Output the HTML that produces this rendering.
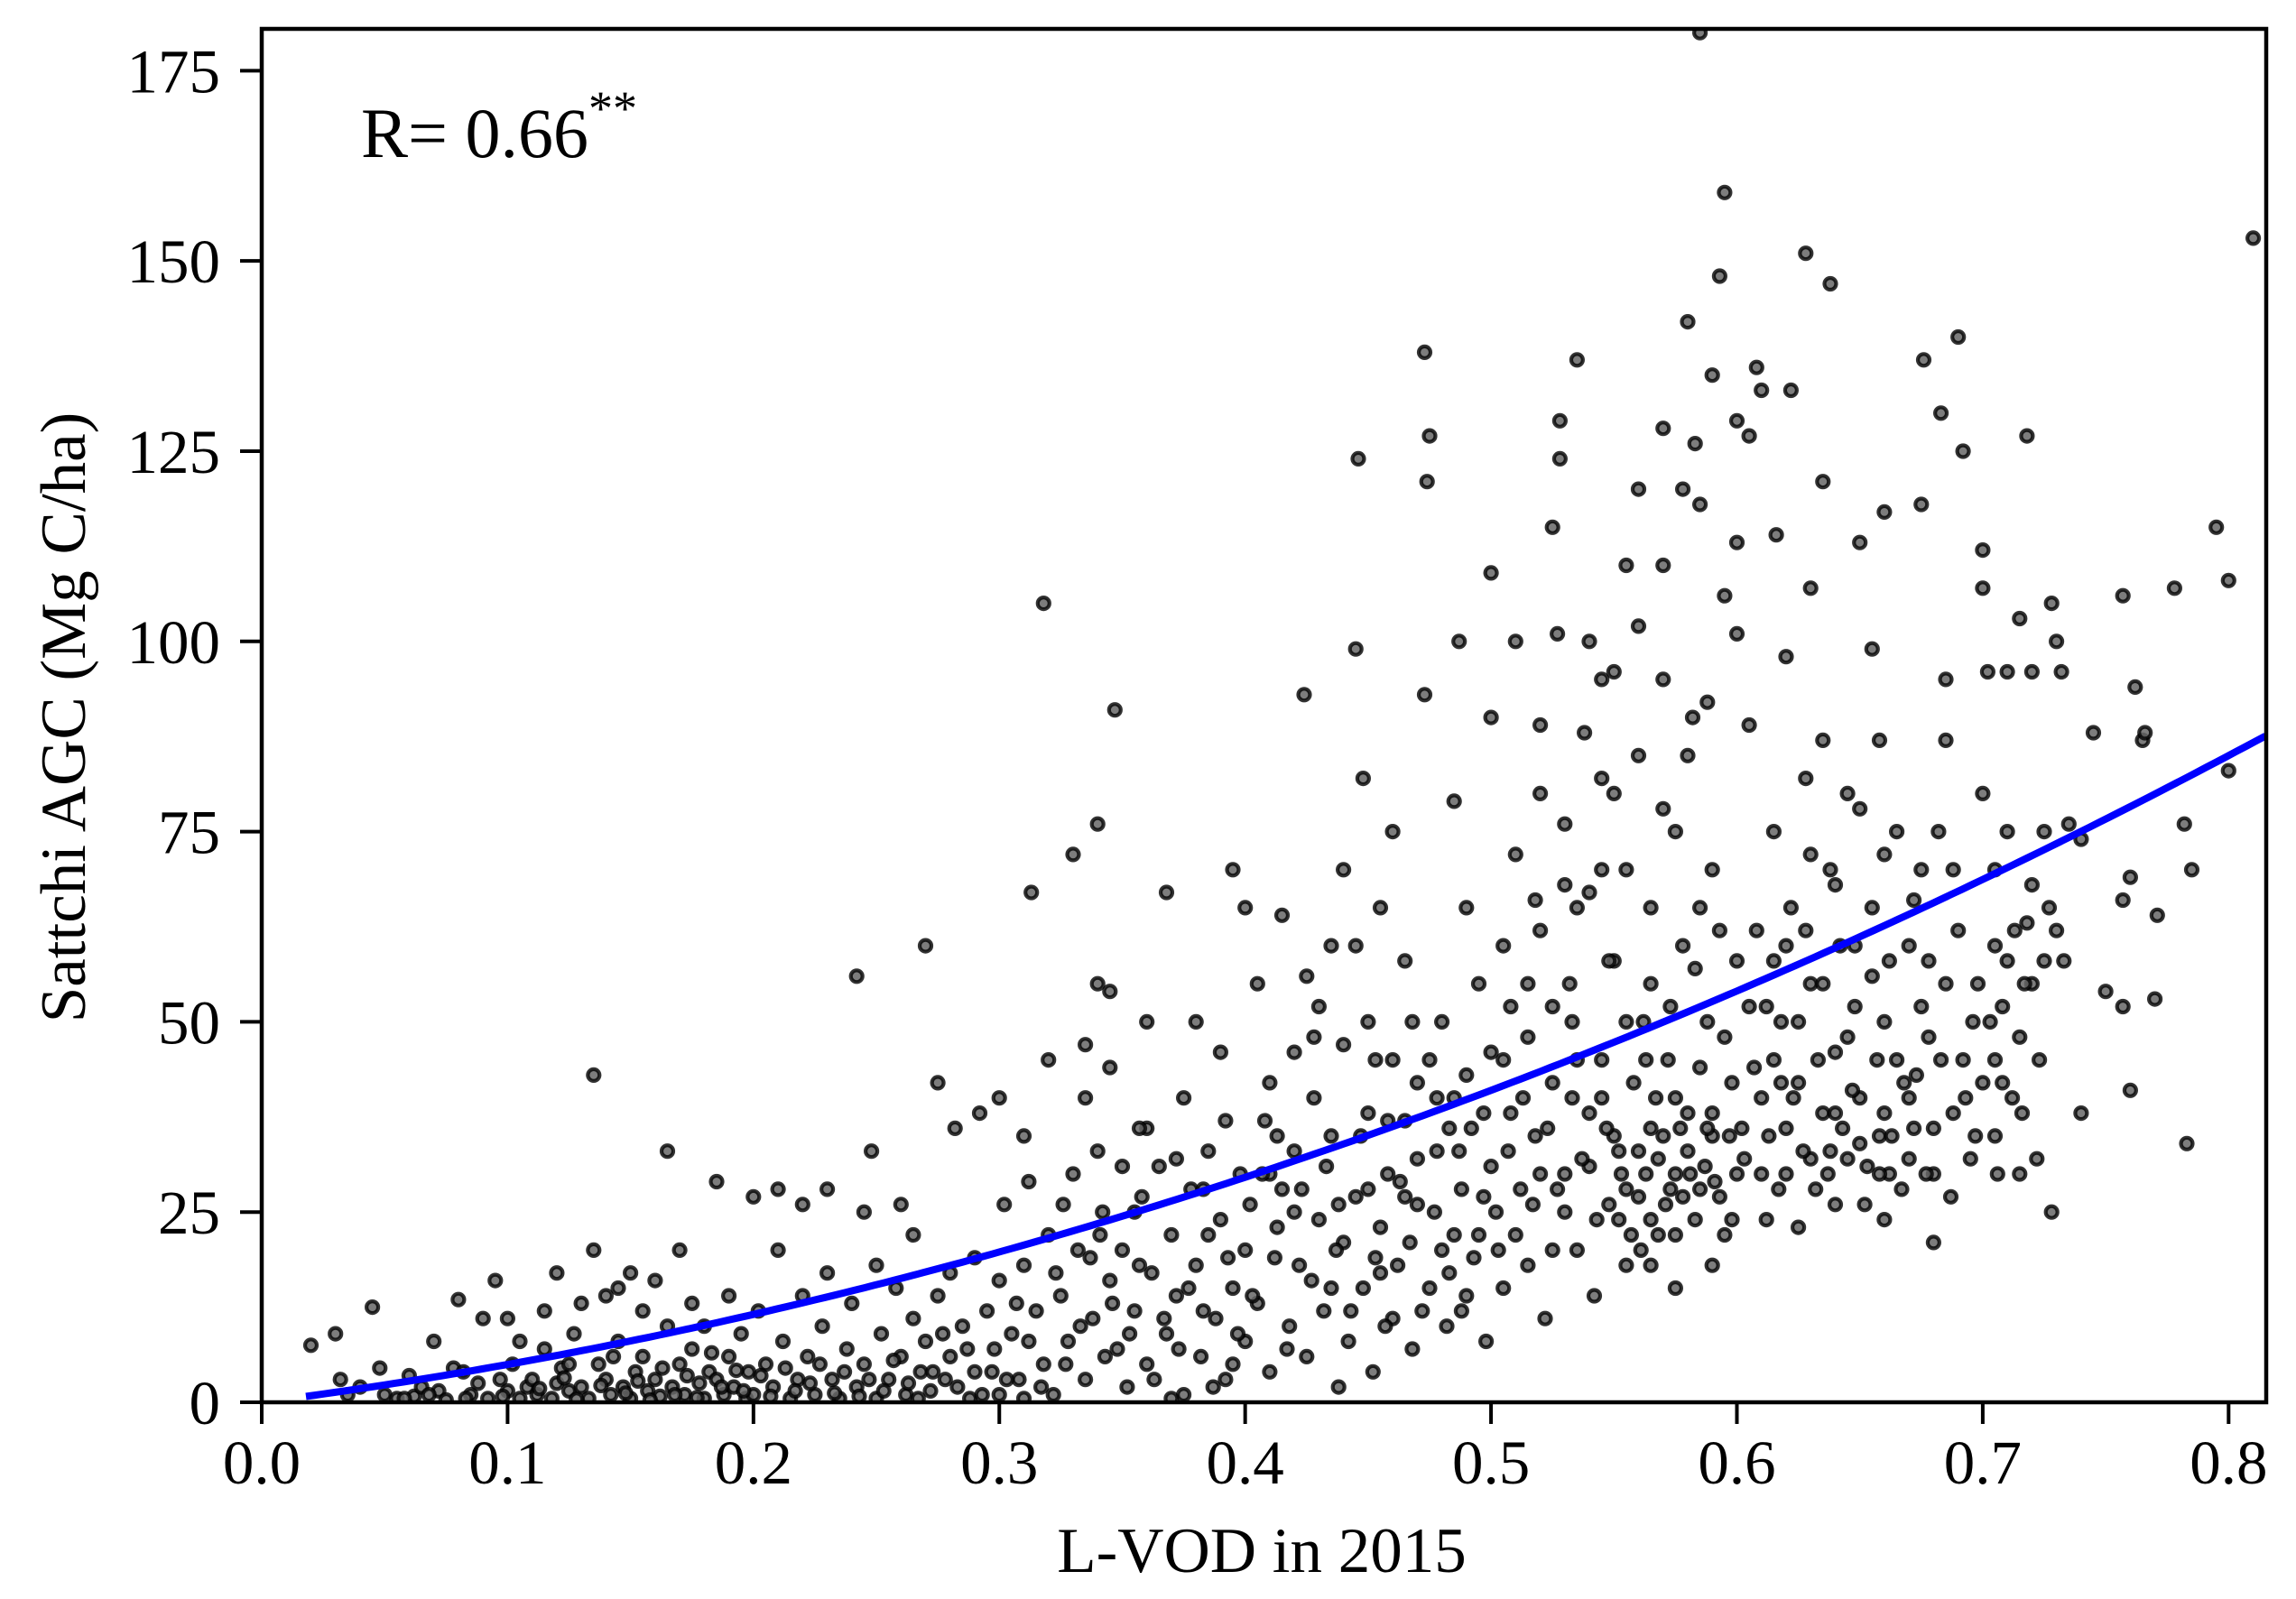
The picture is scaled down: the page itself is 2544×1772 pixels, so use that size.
<!DOCTYPE html>
<html><head><meta charset="utf-8"><style>
html,body{margin:0;padding:0;background:#fff;}
svg{display:block;font-family:"Liberation Serif",serif;}
</style></head><body>
<svg id="chart" width="2544" height="1772" viewBox="0 0 2544 1772" xmlns="http://www.w3.org/2000/svg">
<rect x="0" y="0" width="2544" height="1772" fill="#fff"/>
<g id="points"></g>
<g id="fit"></g>
<g id="axes"></g>
<text x="400" y="174" font-size="78">R= 0.66<tspan dy="-36" font-size="54">**</tspan></text>
<text x="1398" y="1742" font-size="71" text-anchor="middle">L-VOD in 2015</text>
<text transform="translate(94,795) rotate(-90)" font-size="71" text-anchor="middle">Sattchi AGC (Mg C/ha)</text>
</svg>
<script>
const xTicks=[0,0.1,0.2,0.3,0.4,0.5,0.6,0.7,0.8];
const xTickLabels=["0.0","0.1","0.2","0.3","0.4","0.5","0.6","0.7","0.8"];
const yTicks=[0,25,50,75,100,125,150,175];
const yTickLabels=["0","25","50","75","100","125","150","175"];
const fitA=80.8, fitB=41.6, fitStart=0.018, fitEnd=0.815;
const obs=[
[0.02,7.5],[0.03,9],[0.032,3],[0.035,1],[0.04,2],[0.045,12.5],[0.048,4.5],[0.05,1],[0.055,0.5],[0.06,3.5],[0.062,0.8],[0.065,2],[0.07,8],[0.072,1.5],[0.075,0.3],[0.078,4.5],[0.08,13.5],[0.082,4],[0.085,1],[0.088,2.5],[0.09,11],[0.092,0.5],[0.095,16],[0.097,3],[0.1,1.5],[0.1,11],[0.102,5],[0.105,0.5],[0.108,2],
[0.11,3],[0.112,1],[0.115,7],[0.118,0.5],[0.12,17],[0.12,2.5],[0.122,4.5],[0.125,1.5],[0.127,9],[0.13,2],[0.13,13],[0.133,0.5],[0.135,43],[0.135,20],[0.137,5],[0.14,3],[0.14,14],[0.142,1],[0.145,8],[0.147,2],[0.15,17],[0.15,0.5],[0.152,4],[0.155,6],[0.157,1.5],[0.16,16],[0.16,3],[0.162,0.8],[0.165,33],[0.165,10],[0.167,2],[0.17,5],[0.172,1],[0.175,13],[0.175,7],[0.178,2.5],[0.18,0.5],[0.18,10],[0.182,4],[0.185,29],[0.185,3],[0.188,1],[0.19,6],[0.19,14],[0.192,2],[0.195,9],[0.197,0.5],[0.155,12],[0.145,15],[0.125,5],[0.115,12],[0.105,8],[0.17,20],[0.2,27],[0.198,4],
[0.2,1],[0.202,12],[0.205,5],[0.208,2],[0.21,28],[0.21,20],[0.212,8],[0.215,0.5],[0.218,3],[0.22,14],[0.22,26],[0.222,6],[0.225,1],[0.228,10],[0.23,28],[0.23,17],[0.232,3],[0.235,0.5],[0.238,7],[0.24,13],[0.242,56],[0.242,2],[0.245,25],[0.245,5],[0.248,33],[0.25,0.5],[0.25,18],[0.252,9],[0.255,3],[0.258,15],[0.26,26],[0.26,6],[0.262,1],[0.265,22],[0.265,11],[0.268,4],[0.27,60],[0.27,8],[0.272,1.5],[0.275,42],[0.275,14],[0.278,3],[0.28,17],[0.28,6],[0.282,36],[0.285,10],[0.288,0.5],[0.29,19],[0.29,4],[0.292,38],[0.295,12],[0.298,7],[0.3,1],[0.3,16],
[0.3,40],[0.302,26],[0.305,9],[0.308,3],[0.31,35],[0.31,18],[0.313,67],[0.315,12],[0.318,105],[0.318,5],[0.32,45],[0.32,22],[0.322,1],[0.325,14],[0.328,8],[0.33,72],[0.33,30],[0.332,20],[0.335,47],[0.335,3],[0.338,11],[0.34,76],[0.34,55],[0.342,25],[0.345,54],[0.345,44],[0.345,16],[0.347,91],[0.348,7],[0.35,31],[0.35,20],[0.352,2],[0.355,12],[0.358,27],[0.36,50],[0.36,5],[0.362,17],[0.365,31],[0.368,67],[0.368,9],[0.37,22],[0.372,14],[0.375,1],[0.378,28],[0.38,50],[0.38,18],[0.382,6],[0.385,33],[0.388,11],[0.39,46],[0.39,24],[0.392,3],[0.395,70],[0.395,15],[0.398,30],[0.4,65],[0.4,8],[0.4,20],[0.31,0.5],[0.335,40],[0.355,25],[0.375,40],[0.385,22],[0.395,5],[0.36,36],[0.34,33],[0.37,0.5],
[0.402,26],[0.405,55],[0.405,13],[0.408,37],[0.41,42],[0.41,4],[0.412,19],[0.415,64],[0.415,28],[0.418,10],[0.42,46],[0.42,33],[0.422,18],[0.424,93],[0.425,56],[0.425,6],[0.428,40],[0.43,24],[0.432,12],[0.435,60],[0.435,35],[0.438,2],[0.44,47],[0.44,21],[0.442,8],[0.445,99],[0.445,27],[0.446,124],[0.448,82],[0.448,15],[0.45,50],[0.45,38],[0.452,4],[0.455,65],[0.455,23],[0.458,30],[0.46,45],[0.46,11],[0.462,18],[0.465,37],[0.465,58],[0.468,7],[0.47,26],[0.47,42],[0.473,138],[0.473,93],[0.474,121],[0.475,127],[0.475,15],[0.478,33],[0.48,50],[0.48,20],[0.482,10],[0.485,40],[0.485,79],[0.487,100],[0.488,28],[0.49,65],[0.49,14],[0.492,36],[0.495,55],[0.495,22],[0.498,8],[0.5,31],[0.5,46],[0.43,52],[0.44,70],[0.46,75],[0.42,25],[0.41,30],[0.45,28],[0.47,32],[0.49,43],[0.455,17],[0.435,15],[0.465,27],[0.485,22],[0.475,45],[0.445,60],
[0.5,109],[0.5,90],[0.502,25],[0.505,15],[0.505,60],[0.508,38],[0.51,100],[0.51,72],[0.512,28],[0.515,48],[0.515,18],[0.518,35],[0.52,89],[0.52,62],[0.522,11],[0.525,115],[0.525,42],[0.527,101],[0.528,124],[0.528,129],[0.53,76],[0.53,30],[0.532,55],[0.535,137],[0.535,20],[0.538,88],[0.54,100],[0.54,67],[0.54,38],[0.542,14],[0.545,45],[0.545,82],[0.548,26],[0.55,96],[0.55,58],[0.552,33],[0.555,70],[0.555,18],[0.558,42],[0.56,120],[0.56,85],[0.56,27],[0.562,50],[0.565,36],[0.565,65],[0.568,22],[0.57,110],[0.57,128],[0.57,78],[0.572,45],[0.575,30],[0.575,15],[0.578,120],[0.578,60],[0.58,142],[0.58,38],[0.582,90],[0.583,126],[0.585,180],[0.585,118],[0.585,28],[0.588,92],[0.588,50],[0.59,135],[0.59,70],[0.59,35],[0.593,148],[0.595,159],[0.595,106],[0.595,22],[0.598,42],[0.6,129],[0.6,101],[0.6,113],[0.6,58],[0.6,30],
[0.51,22],[0.52,30],[0.53,25],[0.54,31],[0.55,35],[0.56,33],[0.57,35],[0.58,33],[0.59,38],[0.535,45],[0.545,40],[0.555,28],[0.565,24],[0.575,40],[0.585,44],[0.595,48],[0.505,45],[0.515,55],[0.525,52],[0.535,65],[0.545,70],[0.555,50],[0.565,55],[0.575,75],[0.585,65],[0.525,20],[0.565,18],[0.575,22],[0.59,18],[0.545,95],[0.555,110],[0.58,85],[0.52,80],[0.53,68],[0.55,80],[0.56,102],[0.57,95],
[0.602,36],[0.605,89],[0.605,127],[0.608,136],[0.608,62],[0.61,133],[0.61,40],[0.612,24],[0.615,75],[0.616,114],[0.618,50],[0.62,98],[0.62,30],[0.622,133],[0.622,65],[0.625,42],[0.628,151],[0.628,82],[0.63,107],[0.63,55],[0.632,28],[0.635,121],[0.635,87],[0.635,38],[0.638,147],[0.638,70],[0.64,46],[0.642,60],[0.645,32],[0.645,80],[0.648,52],[0.65,113],[0.65,40],[0.652,26],[0.655,99],[0.655,65],[0.658,87],[0.658,35],[0.66,117],[0.66,50],[0.662,30],[0.665,75],[0.668,42],[0.67,60],[0.672,36],[0.675,118],[0.675,70],[0.676,137],[0.678,48],[0.68,30],[0.68,21],[0.682,75],[0.683,130],[0.685,95],[0.685,87],[0.685,55],[0.688,38],[0.69,140],[0.69,62],[0.692,125],[0.692,45],[0.695,32],[0.698,55],[0.7,112],[0.7,107],[0.7,80],[0.7,42],
[0.61,30],[0.62,36],[0.63,32],[0.64,38],[0.65,34],[0.66,38],[0.67,32],[0.615,45],[0.625,50],[0.635,55],[0.645,48],[0.655,56],[0.665,45],[0.675,52],[0.62,60],[0.64,68],[0.66,72],[0.63,72],[0.65,78],[0.605,52],[0.615,58],[0.625,23],[0.64,26],[0.66,24],[0.67,40],[0.68,36],
[0.702,96],[0.705,60],[0.705,35],[0.708,52],[0.71,96],[0.71,75],[0.712,40],[0.715,103],[0.715,48],[0.718,127],[0.718,63],[0.72,96],[0.72,55],[0.722,32],[0.725,75],[0.728,105],[0.728,25],[0.73,100],[0.73,62],[0.732,96],[0.735,76],[0.74,38],[0.745,88],[0.75,54],[0.757,106],[0.757,66],[0.757,52],[0.76,69],[0.76,41],[0.762,94],[0.765,87],[0.766,88],[0.77,53],[0.771,64],[0.778,107],[0.782,76],[0.783,34],[0.785,70],[0.795,115],[0.8,108],[0.8,83],[0.81,153],[0.705,45],[0.71,58],[0.715,30],[0.725,58],[0.72,68],[0.705,70]
];
const obsExtra=[
[0.058,0.5],[0.068,1],[0.083,0.5],[0.098,0.8],[0.113,1.8],[0.123,3.2],[0.128,0.4],[0.138,2.2],[0.143,6],[0.148,1.2],[0.153,2.8],[0.158,0.3],[0.163,4.5],[0.168,1],[0.173,3.5],[0.177,0.6],[0.183,6.5],[0.187,2],[0.193,4.2],[0.196,1.5],[0.203,3.5],[0.207,0.8],[0.213,4.5],[0.217,1.5],[0.223,2.5],[0.227,5],[0.233,1.2],[0.237,4],[0.243,0.8],[0.247,3],[0.253,1.5],[0.257,5.5],[0.263,2.5],[0.267,0.5],[0.273,4],[0.277,9],[0.283,2],[0.287,7],[0.293,1],[0.297,4],
[0.303,3],[0.307,13],[0.312,8],[0.317,2],[0.323,17],[0.327,5],[0.333,10],[0.337,19],[0.343,6],[0.346,13],[0.353,9],[0.357,18],[0.363,3],[0.367,11],[0.373,7],[0.377,15],[0.383,12],[0.387,2],[0.393,19],[0.397,9],[0.341,22],[0.357,36],[0.372,32],[0.383,28],[0.392,37],[0.312,29],[0.326,26],
[0.403,14],[0.407,30],[0.413,23],[0.417,7],[0.423,28],[0.427,16],[0.433,31],[0.437,20],[0.443,12],[0.447,35],[0.453,19],[0.457,10],[0.463,29],[0.467,21],[0.472,12],[0.477,25],[0.483,17],[0.487,33],[0.493,19],[0.497,27],[0.413,35],[0.428,48],[0.453,45],[0.468,50],[0.483,36],[0.497,38],[0.438,26],[0.458,37],[0.478,40],[0.488,12],
[0.503,20],[0.507,33],[0.513,40],[0.517,26],[0.523,36],[0.527,28],[0.533,40],[0.537,32],[0.543,24],[0.547,36],[0.553,30],[0.557,22],[0.563,30],[0.567,40],[0.573,28],[0.577,36],[0.583,24],[0.587,31],[0.593,27],[0.597,35],[0.561,20],[0.571,26],[0.581,30],[0.591,29],[0.552,24],[0.533,50],[0.563,45],[0.593,62],[0.573,52],[0.583,57],[0.508,52],[0.518,66],[0.548,58],[0.568,32],[0.578,27],[0.588,36],[0.598,24],
[0.603,32],[0.607,44],[0.613,35],[0.617,28],[0.623,40],[0.627,33],[0.633,45],[0.637,30],[0.643,36],[0.647,41],[0.653,31],[0.657,45],[0.663,35],[0.667,28],[0.673,43],[0.677,30],[0.683,45],[0.687,27],[0.693,40],[0.697,35],[0.612,52],[0.628,62],[0.648,60],[0.662,58],[0.672,66],[0.688,70],[0.618,42],[0.638,33],[0.658,30],[0.678,58],
[0.703,50],[0.708,42],[0.713,62],[0.717,55],[0.723,45],[0.727,65],[0.733,58],[0.706,30],[0.716,38],[0.696,50],[0.74,74]
];
const vod=obs.concat(obsExtra).map(p=>p[0]);
const agc=obs.concat(obsExtra).map(p=>p[1]);

const NS="http://www.w3.org/2000/svg";
const L=290,R=2511,T=32,B=1554;
const xMin=0,xMax=0.8153,yMin=0,yMax=180.5;
function xs(v){return L+(v-xMin)/(xMax-xMin)*(R-L);}
function ys(v){return B-(v-yMin)/(yMax-yMin)*(B-T);}
function mk(tag,attrs,parent){const e=document.createElementNS(NS,tag);for(const k in attrs)e.setAttribute(k,attrs[k]);parent.appendChild(e);return e;}

const defs=mk('defs',{},document.getElementById('chart'));
const cp=mk('clipPath',{id:'plotclip'},defs);
mk('rect',{x:L,y:T,width:R-L,height:B-T},cp);

const pg=document.getElementById('points');
pg.setAttribute('clip-path','url(#plotclip)');
for(let i=0;i<Math.min(vod.length,agc.length);i++){
  const c=mk('circle',{cx:xs(vod[i]).toFixed(1),cy:ys(agc[i]).toFixed(1),r:6.5,fill:'#666','fill-opacity':0.85,stroke:'#000','stroke-opacity':0.8,'stroke-width':4.2},pg);
  
  
}

const fg=document.getElementById('fit');
let d='';
for(let i=0;i<=200;i++){const x=fitStart+(fitEnd-fitStart)*i/200;const y=fitA*x*x+fitB*x;d+=(i?'L':'M')+xs(x).toFixed(1)+','+ys(y).toFixed(1);}
const fp=mk('path',{d:d,fill:'none',stroke:'#0000ff','stroke-width':8},fg);



const ag=document.getElementById('axes');
const frame=mk('rect',{x:L,y:T,width:R-L,height:B-T,fill:'none',stroke:'#000','stroke-width':4.5},ag);


xTicks.forEach((t,i)=>{
  const x=xs(t);
  const tk=mk('line',{x1:x,y1:B,x2:x,y2:B+24,stroke:'#000','stroke-width':4},ag);
  
  
  const tl=mk('text',{x:x,y:B+90,'font-size':69,'text-anchor':'middle'},ag);
  tl.textContent=xTickLabels[i];
  
  
});
yTicks.forEach((t,i)=>{
  const y=ys(t);
  const tk=mk('line',{x1:L-24,y1:y,x2:L,y2:y,stroke:'#000','stroke-width':4},ag);
  
  
  const tl=mk('text',{x:L-46,y:y+24,'font-size':69,'text-anchor':'end'},ag);
  tl.textContent=yTickLabels[i];
  
  
});
</script>
</body></html>
